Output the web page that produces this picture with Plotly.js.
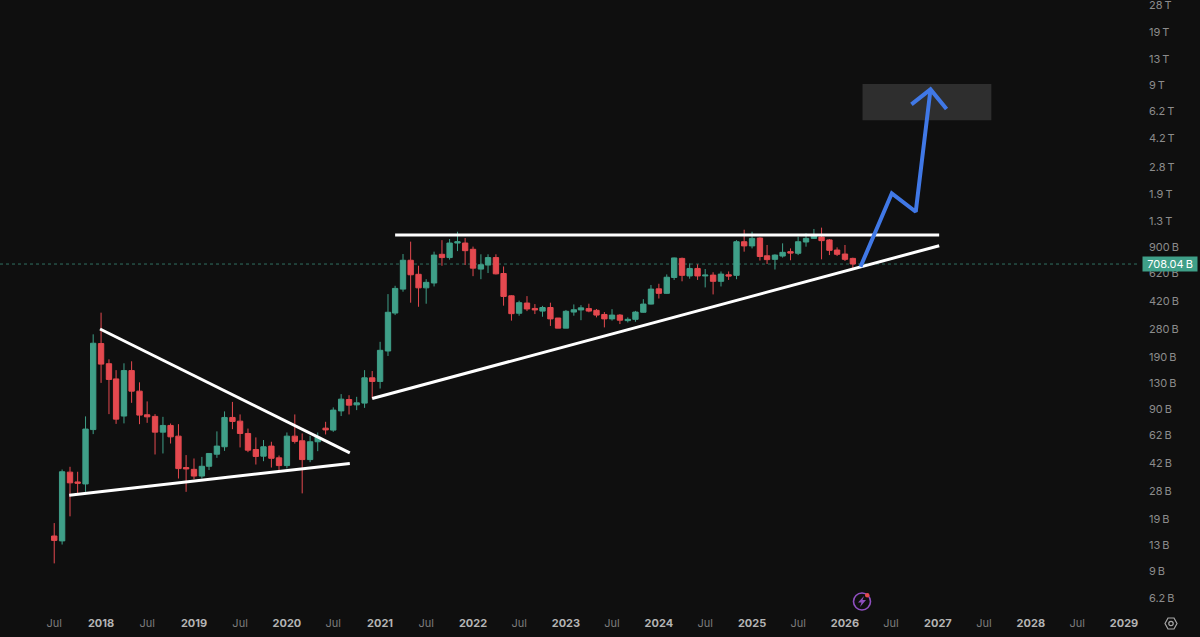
<!DOCTYPE html>
<html><head><meta charset="utf-8">
<script src="https://cdn.plot.ly/plotly-3.0.1.min.js"></script>
<style>html,body{margin:0;padding:0;background:#0f0f0f;overflow:hidden}#c{width:1200px;height:637px}</style>
</head><body><div id="c"></div>
<script>
const months = [
"2017-07","2017-08","2017-09","2017-10","2017-11","2017-12",
"2018-01","2018-02","2018-03","2018-04","2018-05","2018-06","2018-07","2018-08","2018-09","2018-10","2018-11","2018-12",
"2019-01","2019-02","2019-03","2019-04","2019-05","2019-06","2019-07","2019-08","2019-09","2019-10","2019-11","2019-12",
"2020-01","2020-02","2020-03","2020-04","2020-05","2020-06","2020-07","2020-08","2020-09","2020-10","2020-11","2020-12",
"2021-01","2021-02","2021-03","2021-04","2021-05","2021-06","2021-07","2021-08","2021-09","2021-10","2021-11","2021-12",
"2022-01","2022-02","2022-03","2022-04","2022-05","2022-06","2022-07","2022-08","2022-09","2022-10","2022-11","2022-12",
"2023-01","2023-02","2023-03","2023-04","2023-05","2023-06","2023-07","2023-08","2023-09","2023-10","2023-11","2023-12",
"2024-01","2024-02","2024-03","2024-04","2024-05","2024-06","2024-07","2024-08","2024-09","2024-10","2024-11","2024-12",
"2025-01","2025-02","2025-03","2025-04","2025-05","2025-06","2025-07","2025-08","2025-09","2025-10","2025-11","2025-12",
"2026-01","2026-02"];
const opens = [14.9,13.9,36.9,32.1,31.2,67.5,
229,172,138.6,81.8,156,116.5,83.3,81.4,65.1,71.6,61.5,39.4,
38.4,34.9,40.1,47.6,52.9,80.2,76.1,63.9,50.9,46.3,53.4,45.2,
40.5,61.5,57.6,44.1,56.8,68.9,67,88,103.5,95.9,98.3,140.8,
133.7,206,353,496,747,612,505,541,813,776,954,954,
873,659,698,776,619,451,352,407,377,363,382,329,
285,358,369,376,367,346,325,343,317,323,357,401,
498,467,585,767,598,665,598,605,554,608,603,972,
916,1024,796,757,793,844,825,968,1019,1038,997,864,
816,767];
const highs = [17.9,38.3,39.8,37.1,81.4,261,
355,183,157,173,178,132,100.7,84.1,80.9,73.6,72.9,47,
44.8,45.8,48.3,65.8,87.4,100,83.7,68.5,60.4,58.2,56.8,46.7,
64.8,83.7,63.9,61.8,64.8,75.4,92.5,111.7,110,107.5,157,155,
234.7,462,520,816,973,691,571,844,994,1010,1120,1024,
907,813,813,813,684,455,421,449,401,391,409,329,
369,399,395,403,374,358,373,348,332,364,430,526,
535,611,776,776,715,705,660,630,637,637,994,1153,
1120,1034,928,813,950,884,1044,1095,1165,1187,1010,897,
928,775];
const lows = [10.1,13.2,19.7,27.3,27.9,63.3,
131,84.1,73.2,73.7,98.7,72.9,74.3,47.4,48.1,55.4,33.7,27.9,
33.4,33.7,38.0,45.2,49.9,67.9,52.4,49.0,41.1,43.1,39.4,38.0,
38.9,55.4,27.3,42.5,49.7,63.0,65.4,81.8,83.7,89,91.9,104.9,
120.9,192,343,478,409,386,403,515,691,754,851,698,
596,571,623,611,392,317,340,363,348,335,294,285,
285,340,319,357,332,288,317,302,309,312,355,399,
434,464,565,554,575,565,508,460,515,565,571,844,
884,744,708,655,776,747,804,906,1010,757,804,793,
739,665];
const closes = [14.0,37.1,31.7,31.5,68.0,230,
171,137.6,78.3,156,116.5,82.9,80.9,65.1,71.6,60.9,38.8,38.6,
34.9,40.1,48.1,53.4,80.2,75.8,63.9,50.4,46.1,52.9,44.9,40.5,
61.5,57.1,44.1,56.8,60.7,67.2,89,104,95.5,98.7,140.8,133.7,
208,357,501,747,608,505,546,804,776,954,972,856,
668,701,776,616,447,350,409,374,369,382,325,285,
362,370,380,363,343,325,343,319,323,358,401,496,
467,587,772,603,665,598,605,554,614,597,972,916,
1019,788,754,804,836,827,972,1019,1068,987,860,813,
757,708];
const lastPrice = 708.04;

const priceTicks = [28000,19000,13000,9000,6200,4200,2800,1900,1300,900,620,420,280,190,130,90,62,42,28,19,13,9,6.2];
const priceLabels = ["28\u2009T","19\u2009T","13\u2009T","9\u2009T","6.2\u2009T","4.2\u2009T","2.8\u2009T","1.9\u2009T","1.3\u2009T","900\u2009B","620\u2009B","420\u2009B","280\u2009B","190\u2009B","130\u2009B","90\u2009B","62\u2009B","42\u2009B","28\u2009B","19\u2009B","13\u2009B","9\u2009B","6.2\u2009B"];
const timeTicks = ["2017-07-01","2018-01-01","2018-07-01","2019-01-01","2019-07-01","2020-01-01","2020-07-01","2021-01-01","2021-07-01","2022-01-01","2022-07-01","2023-01-01","2023-07-01","2024-01-01","2024-07-01","2025-01-01","2025-07-01","2026-01-01","2026-07-01","2027-01-01","2027-07-01","2028-01-01","2028-07-01","2029-01-01"];
const timeLabels = timeTicks.map(d => d.slice(5,7)==="07" ? '<span style="color:#7d7d7d">Jul</span>' : '<b>'+d.slice(0,4)+'</b>');

const wedgeUpperX = ["2017-12-28","2020-09-04"], wedgeUpperY = [281.5,48.5];
const wedgeLowerX = ["2017-08-29","2020-09-04"], wedgeLowerY = [26.6,41.7];
const riseX = ["2020-12-01","2027-01-06"], riseY = [104.9,918];
const flatX = ["2021-03-01","2027-01-06"], flatY = [1068,1068];
const pathX = ["2026-03-03","2026-07-04","2026-10-06","2026-12-03"], pathY = [681,1932,1488,8453];
const headX = ["2026-09-19","2026-12-03","2027-02-04"], headY = [6837,8453,6395];
const boxX = ["2026-03-11","2027-07-30"], boxY = [5445,9120];

const BG = "#0f0f0f", UP = "#3f9f88", DN = "#e4494f";
const white = (x,y)=>({type:"scatter",mode:"lines",x,y,hoverinfo:"skip",line:{color:"#ffffff",width:3}});
const blue = (x,y)=>({type:"scatter",mode:"lines",x,y,hoverinfo:"skip",line:{color:"#4078e6",width:4}});

const traces = [
 {type:"candlestick",x:months,open:opens,high:highs,low:lows,close:closes,whiskerwidth:0,
  increasing:{line:{color:UP,width:1},fillcolor:UP},decreasing:{line:{color:DN,width:1},fillcolor:DN}},
 white(wedgeUpperX,wedgeUpperY),white(wedgeLowerX,wedgeLowerY),white(riseX,riseY),white(flatX,flatY),
 blue(pathX,pathY),blue(headX,headY)
];
// page-pixel helpers for the two small interface icons
const px = v => v/1138, py = v => 1-v/610;
const layout = {
 width:1200,height:637,paper_bgcolor:BG,plot_bgcolor:BG,showlegend:false,boxgap:0.25,boxgroupgap:0,
 margin:{l:0,r:62,t:0,b:27,pad:0},
 font:{family:"Inter, 'Open Sans', sans-serif",size:11,color:"#8c8c8c"},
 xaxis:{type:"date",range:["2016-11-30","2029-02-25"],rangeslider:{visible:false},showgrid:false,zeroline:false,showline:false,
  tickmode:"array",tickvals:timeTicks,ticktext:timeLabels,ticklen:0,ticklabelstandoff:5,tickfont:{size:11,color:"#b4b4b4"}},
 yaxis:{type:"log",side:"right",range:[0.717,4.478],showgrid:false,zeroline:false,showline:false,ticklabeloverflow:"allow",
  tickmode:"array",tickvals:priceTicks,ticktext:priceLabels,ticklen:0,ticklabelstandoff:10,tickfont:{size:11,color:"#8c8c8c"}},
 shapes:[
  {type:"rect",layer:"below",xref:"x",yref:"y",x0:boxX[0],x1:boxX[1],y0:boxY[0],y1:boxY[1],fillcolor:"#2e2e2e",line:{width:0}},
  {type:"line",layer:"below",xref:"paper",yref:"y",x0:0,x1:1,y0:lastPrice,y1:lastPrice,line:{color:"#2f6f60",width:1,dash:"dot"}},
  {type:"circle",xref:"paper",yref:"paper",x0:px(853.5),x1:px(870.5),y0:py(610),y1:py(593),line:{color:"#8f4fc0",width:1.6}},
  {type:"path",xref:"paper",yref:"paper",path:`M ${px(864)} ${py(596)} L ${px(858)} ${py(602.5)} L ${px(861.5)} ${py(602.5)} L ${px(860)} ${py(607)} L ${px(866)} ${py(600)} L ${px(862.5)} ${py(600)} Z`,fillcolor:"#8f4fc0",line:{width:0}},
  {type:"circle",xref:"paper",yref:"paper",x0:px(865),x1:px(869.5),y0:py(597.5),y1:py(593),fillcolor:"#e4494f",line:{width:0}},
  {type:"path",xref:"paper",yref:"paper",path:`M ${px(1165)} ${py(623.5)} L ${px(1168)} ${py(618)} L ${px(1174)} ${py(618)} L ${px(1177)} ${py(623.5)} L ${px(1174)} ${py(629)} L ${px(1168)} ${py(629)} Z`,line:{color:"#a8a8a8",width:1.2}},
  {type:"circle",xref:"paper",yref:"paper",x0:px(1168.8),x1:px(1173.2),y0:py(625.7),y1:py(621.3),line:{color:"#a8a8a8",width:1.2}}
 ],
 annotations:[
  {xref:"paper",yref:"y",x:px(1142),xanchor:"left",y:Math.log10(lastPrice),yanchor:"middle",showarrow:false,
   text:"708.04\u2009B",width:54,height:14,align:"center",bgcolor:UP,font:{size:11,color:"#ffffff"},borderpad:0}
 ]
};
Plotly.newPlot("c",traces,layout,{displayModeBar:false,staticPlot:true});
</script></body></html>
